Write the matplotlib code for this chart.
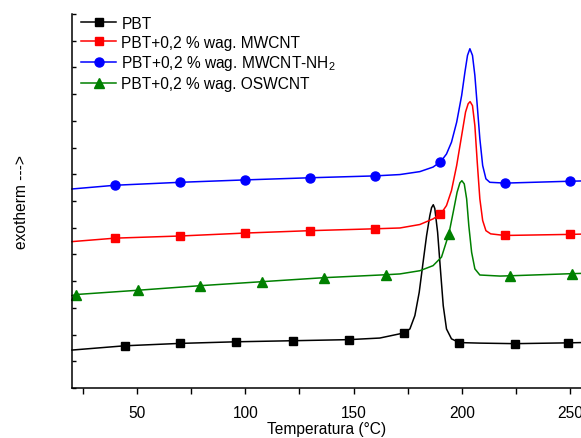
import matplotlib
matplotlib.use('Agg')
import matplotlib.pyplot as plt
from matplotlib.lines import Line2D
from matplotlib.ticker import MultipleLocator

plt.rcParams['font.family'] = ['Liberation Sans', 'DejaVu Sans']
plt.rcParams['mathtext.fontset'] = 'custom'
plt.rcParams['mathtext.rm'] = 'Liberation Sans'
plt.rcParams['mathtext.it'] = 'Liberation Sans:italic'

# curves (temperature in C, signal in arbitrary units)
pbt_T = [20, 44.3, 70, 95.9, 122.1, 147.7, 162.1, 173.2, 176.0, 178.3, 180.3, 182.1, 183.7,
         185.2, 186.0, 186.8, 187.5, 188.8, 190.2, 191.4, 192.9, 195.2, 198.8, 208.3,
         224.5, 249.1, 255]
pbt_v = [1.42, 1.58, 1.67, 1.73, 1.77, 1.81, 1.87, 2.06, 2.21, 2.71, 3.58, 4.71, 5.70,
         6.45, 6.75, 6.86, 6.72, 5.83, 4.33, 3.08, 2.21, 1.84, 1.70, 1.68,
         1.66, 1.69, 1.70]
pbt_mT = [44.3, 70, 95.9, 122.1, 147.7, 173.3, 198.8, 224.5, 249.1]
pbt_mv = [1.58, 1.67, 1.73, 1.77, 1.81, 2.06, 1.70, 1.66, 1.69]

mw_T = [20, 40, 70, 100, 130, 160, 171.4, 180.6, 186.7, 190.3, 192.9, 195.2, 197.6, 199.9,
        201.7, 202.9, 203.8, 204.9, 206.0, 207.1, 208.3, 209.6, 211.1, 213.3, 217.6, 220,
        250, 255]
mw_v = [5.48, 5.61, 5.69, 5.80, 5.89, 5.96, 5.99, 6.12, 6.33, 6.52, 6.83, 7.39, 8.33, 9.45,
        10.33, 10.64, 10.72, 10.57, 9.82, 8.45, 7.08, 6.27, 5.89, 5.77, 5.73, 5.71,
        5.75, 5.76]
mw_mT = [40, 70, 100, 130, 160, 190, 220, 250]
mw_mv = [5.61, 5.69, 5.80, 5.89, 5.96, 6.50, 5.71, 5.75]

nh2_T = [20, 40, 70, 100, 130, 160, 171.4, 180.6, 186.7, 190.3, 192.9, 195.2, 197.6, 199.9,
         201.4, 202.6, 203.7, 204.9, 206.0, 207.1, 208.3, 209.6, 211.1, 212.9, 217.6, 220,
         250, 255]
nh2_v = [7.45, 7.59, 7.70, 7.79, 7.87, 7.94, 7.99, 8.10, 8.27, 8.48, 8.76, 9.20, 9.95, 10.95,
         11.82, 12.45, 12.70, 12.45, 11.70, 10.57, 9.33, 8.33, 7.83, 7.70, 7.68, 7.67,
         7.74, 7.75]
nh2_mT = [40, 70, 100, 130, 160, 190, 220, 250]
nh2_mv = [7.59, 7.70, 7.79, 7.87, 7.94, 8.47, 7.67, 7.74]

osw_T = [20, 22, 50.6, 79.2, 107.8, 136.4, 165, 171.4, 180.6, 186.7, 190.6, 194.0, 196.0,
         197.8, 199.1, 200.0, 201.1, 202.2, 203.2, 204.5, 206.0, 208.3, 217.6, 222.2,
         250.8, 255]
osw_v = [3.46, 3.50, 3.66, 3.83, 3.98, 4.13, 4.24, 4.27, 4.39, 4.58, 4.90, 5.77, 6.58,
         7.33, 7.68, 7.76, 7.64, 7.08, 6.08, 5.08, 4.46, 4.23, 4.19, 4.20,
         4.28, 4.29]
osw_mT = [22, 50.6, 79.2, 107.8, 136.4, 165, 194.0, 222.2, 250.8]
osw_mv = [3.50, 3.66, 3.83, 3.98, 4.13, 4.24, 5.77, 4.20, 4.28]

labels = ['PBT', 'PBT+0,2 % wag. MWCNT', 'PBT+0,2 % wag. MWCNT-NH$_2$', 'PBT+0,2 % wag. OSWCNT']
colors = ['black', '#ff0000', '#0000ff', '#008000']
markers = ['s', 's', 'o', '^']
msizes = [5.5, 5.5, 6.5, 7]

series = [(pbt_T, pbt_v, pbt_mT, pbt_mv),
          (mw_T, mw_v, mw_mT, mw_mv),
          (nh2_T, nh2_v, nh2_mT, nh2_mv),
          (osw_T, osw_v, osw_mT, osw_mv)]

fs = 11.2

fig = plt.figure(figsize=(5.81, 4.39), dpi=100)
ax = fig.add_axes([72/581, 50/439, 509/581, 374/439])

handles = []
for (T, v, mT, mv), c, m, ms, lab in zip(series, colors, markers, msizes, labels):
    ax.plot(T, v, color=c, lw=1.1, clip_on=False)
    ax.plot(mT, mv, ls='none', marker=m, ms=ms, color=c, clip_on=False)
    handles.append(Line2D([], [], color=c, lw=1.1, marker=m, ms=ms, label=lab))

ax.set_xlim(20, 255)
ax.set_ylim(0, 14)
ax.xaxis.set_major_locator(MultipleLocator(50))
ax.xaxis.set_minor_locator(MultipleLocator(25))
ax.yaxis.set_major_locator(MultipleLocator(1))
ax.tick_params(axis='x', which='both', direction='out', length=4.5, width=1, labelsize=fs, pad=7.5)
ax.tick_params(axis='y', which='both', direction='in', length=3, width=1, labelleft=False)
for s in ['top', 'right']:
    ax.spines[s].set_visible(False)
ax.spines['left'].set_linewidth(1.1)
ax.spines['bottom'].set_linewidth(1.1)

ax.set_xlabel('Temperatura (°C)', fontsize=fs, labelpad=1)
ax.set_ylabel('exotherm --->', fontsize=fs, labelpad=31)

ax.legend(handles=handles, loc='upper left', bbox_to_anchor=(0.017, 0.995), frameon=False,
          fontsize=fs, handlelength=2.3, handletextpad=0.32, labelspacing=0.24,
          borderpad=0, borderaxespad=0)

fig.savefig('out.png', dpi=100)
